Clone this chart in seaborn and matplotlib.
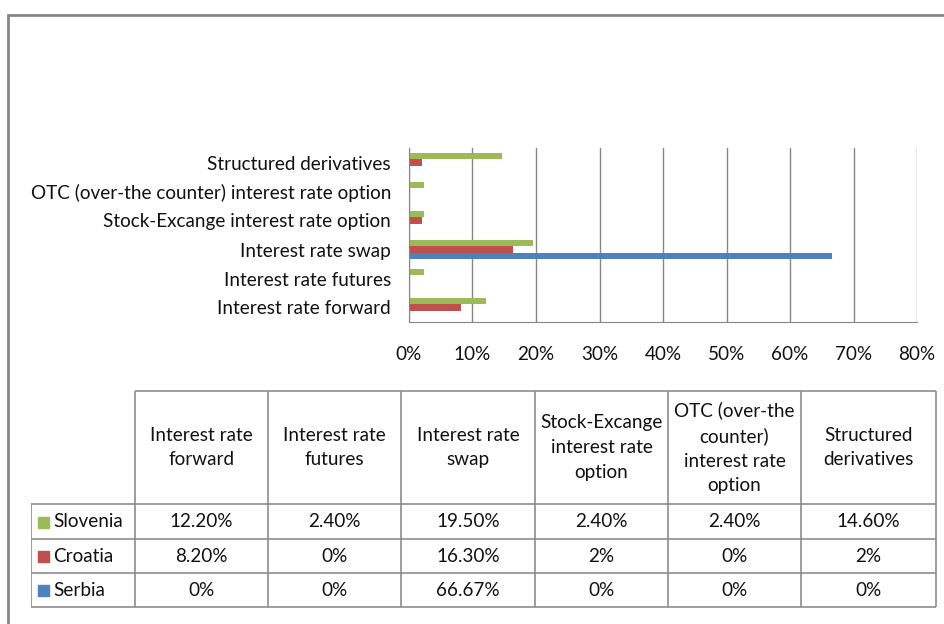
import matplotlib.pyplot as plt
import matplotlib.patches as mpatches
import pandas as pd
import seaborn as sns

# данные
instruments = ['Interest rate forward', 'Interest rate futures', 'Interest rate swap',
               'Stock-Excange interest rate option', 'OTC (over-the counter) interest rate option',
               'Structured derivatives']
header_labels = ['Interest rate\nforward', 'Interest rate\nfutures', 'Interest rate\nswap',
                 'Stock-Excange\ninterest rate\noption', 'OTC (over-the\ncounter)\ninterest rate\noption',
                 'Structured\nderivatives']
countries = ['Slovenia', 'Croatia', 'Serbia']
slovenia = [12.2, 2.4, 19.5, 2.4, 2.4, 14.6]
croatia = [8.2, 0, 16.3, 2, 0, 2]
serbia = [0, 0, 66.67, 0, 0, 0]
table_text = {
    'Slovenia': ['12.20%', '2.40%', '19.50%', '2.40%', '2.40%', '14.60%'],
    'Croatia': ['8.20%', '0%', '16.30%', '2%', '0%', '2%'],
    'Serbia': ['0%', '0%', '66.67%', '0%', '0%', '0%'],
}
colors = {'Slovenia': '#9BBB59', 'Croatia': '#C0504D', 'Serbia': '#4F81BD'}

df = pd.DataFrame({
    'Инструмент': instruments * 3,
    'Страна': [c for c in countries for _ in instruments],
    'Доля': slovenia + croatia + serbia,
})

sns.set_style('white')
plt.rcParams['font.family'] = ['Lato', 'DejaVu Sans']
W, H = 945, 624
fs = 13.6
fig = plt.figure(figsize=(W / 100, H / 100), dpi=100)

# рамка диаграммы
fig.patches.append(mpatches.Rectangle((8 / W, -0.1), 1.1, 1 - 15 / H + 0.1, transform=fig.transFigure,
                                      fill=False, edgecolor='#878787', linewidth=2))

ax = fig.add_axes([409 / W, 1 - 322 / H, (917 - 409) / W, (322 - 148) / H])
sns.barplot(data=df, x='Доля', y='Инструмент', hue='Страна', order=instruments[::-1],
            hue_order=countries, palette=colors, width=0.67, ax=ax, legend=False,
            saturation=1, linewidth=0)
ax.set_xlim(0, 80)
ax.set_xticks(range(0, 81, 10))
ax.set_xticklabels([f'{t}%' for t in range(0, 81, 10)])
ax.xaxis.grid(True, color='#868686', linewidth=1)
ax.set_axisbelow(True)
for s in ['top', 'right']:
    ax.spines[s].set_visible(False)
for s in ['left', 'bottom']:
    ax.spines[s].set_color('#868686')
ax.tick_params(axis='x', length=0, pad=17, labelsize=fs, labelcolor='#111')
ax.tick_params(axis='y', length=0, pad=13, labelsize=fs, labelcolor='#111')
ax.set_xlabel('')
ax.set_ylabel('')

# таблица данных
cols = [31, 135, 268, 401, 535, 668, 801, 936]
rows = [391, 504, 539, 573, 607]
tax = fig.add_axes([31 / W, 1 - 608 / H, (937 - 31) / W, (608 - 390) / H])
tax.set_xlim(31, 937)
tax.set_ylim(608, 390)
tax.axis('off')
lc = '#8c8c8c'
tax.hlines(rows[0], cols[1], cols[-1], color=lc, lw=1.2)
tax.hlines(rows[1:], cols[0], cols[-1], color=lc, lw=1.2)
tax.vlines(cols[0], rows[1], rows[-1], color=lc, lw=1.2)
tax.vlines(cols[1:], rows[0], rows[-1], color=lc, lw=1.2)
for i, lab in enumerate(header_labels):
    tax.text((cols[i + 1] + cols[i + 2]) / 2, (rows[0] + rows[1]) / 2, lab, ha='center', va='center',
             fontsize=fs, color='#111', linespacing=1.55)
for r, c in enumerate(countries):
    yc = (rows[r + 1] + rows[r + 2]) / 2
    tax.add_patch(mpatches.Rectangle((38, yc - 5), 11, 11, color=colors[c]))
    tax.text(53, yc, c, ha='left', va='center', fontsize=fs, color='#111')
    for i, v in enumerate(table_text[c]):
        tax.text((cols[i + 1] + cols[i + 2]) / 2, yc, v, ha='center', va='center', fontsize=fs, color='#111')

fig.savefig('out.png', dpi=100)
